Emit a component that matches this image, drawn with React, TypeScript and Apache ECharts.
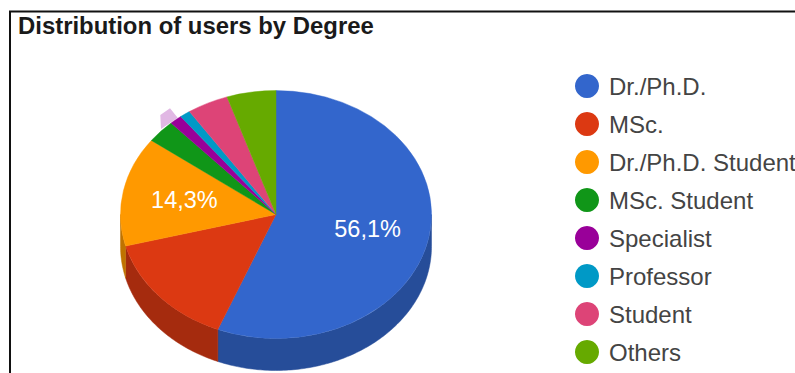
import React, { useEffect, useRef } from "react";
import * as echarts from "echarts";

const titleText = "Distribution of users by Degree";
const categories = ["Dr./Ph.D.", "MSc.", "Dr./Ph.D. Student", "MSc. Student", "Specialist", "Professor", "Student", "Others"];
const shares = [56.1, 14.8, 14.3, 3.0, 1.3, 1.1, 4.3, 5.1];
const shownLabels = [true, false, true, false, false, false, false, false];
const topColors = ["#3366cc", "#dc3912", "#ff9900", "#109618", "#990099", "#0099c6", "#dd4477", "#66aa00"];
const wallColors = ["#264d99", "#a52b0e", "#bf7300", "#0c710f", "#730073", "#007395", "#a63359", "#4d8000"];

// Geometry of the tilted pie.
const CX = 276;
const CY = 214.5;
const RX = 155.5;
const RY = 124;
const DEPTH = 32;
const LABEL_RADIUS = 0.6;

const total = shares.reduce((a, b) => a + b, 0);
const sliceBounds = (index: number) => {
  const before = shares.slice(0, index).reduce((a, b) => a + b, 0);
  // Angles run clockwise from twelve o'clock.
  return [(before / total) * Math.PI * 2, ((before + shares[index]) / total) * Math.PI * 2];
};
const rimPoint = (angle: number, drop = 0) => [CX + RX * Math.sin(angle), CY - RY * Math.cos(angle) + drop];

const formatShare = (v: number) => v.toFixed(1).replace(".", ",") + "%";

const renderSlice = (index: number) => (_params: unknown, api: any) => {
  const [start, end] = sliceBounds(index);
  const color = topColors[index];
  const children: any[] = [];

  // Side wall: only the part of the rim that faces the viewer (lower half).
  const wallStart = Math.max(start, Math.PI / 2);
  const wallEnd = Math.min(end, (Math.PI * 3) / 2);
  if (wallEnd > wallStart) {
    const upper: number[][] = [];
    const lower: number[][] = [];
    const steps = Math.max(2, Math.ceil((wallEnd - wallStart) * 60));
    for (let i = 0; i <= steps; i++) {
      const a = wallStart + ((wallEnd - wallStart) * i) / steps;
      upper.push(rimPoint(a));
      lower.unshift(rimPoint(a, DEPTH));
    }
    children.push({
      type: "polygon",
      shape: { points: upper.concat(lower) },
      style: { fill: wallColors[index], stroke: wallColors[index], lineWidth: 0.5 },
    });
  }

  // Top face: a sector squashed vertically into the ellipse.
  children.push({
    type: "sector",
    x: CX,
    y: CY,
    scaleY: RY / RX,
    shape: {
      cx: 0,
      cy: 0,
      r0: 0,
      r: RX,
      startAngle: start - Math.PI / 2,
      endAngle: end - Math.PI / 2,
      clockwise: true,
    },
    style: { fill: color, stroke: color, lineWidth: 0.5 },
  });

  if (shownLabels[index]) {
    const mid = (start + end) / 2;
    children.push({
      type: "text",
      x: CX + RX * LABEL_RADIUS * Math.sin(mid),
      y: CY - RY * LABEL_RADIUS * Math.cos(mid),
      z2: 10,
      style: {
        text: formatShare(api.value(0)),
        fill: "#ffffff",
        font: '23.5px "Liberation Sans", Arial, sans-serif',
        align: "center",
        verticalAlign: "middle",
      },
    });
  }
  return { type: "group", children };
};

export default function App() {
  const ref = useRef<HTMLDivElement>(null);

  useEffect(() => {
    document.body.style.margin = "0";
    const chart = echarts.init(ref.current!, undefined, { renderer: "svg" });
    chart.setOption({
      animation: false,
      backgroundColor: "#ffffff",
      title: {
        text: titleText,
        left: 18,
        top: 13,
        padding: 0,
        textStyle: { fontFamily: '"Liberation Sans", Arial, sans-serif', fontSize: 23.9, fontWeight: "bold", color: "#1a1a1a" },
      },
      legend: {
        orient: "vertical",
        left: 575,
        top: 74,
        icon: "circle",
        itemWidth: 24,
        itemHeight: 24,
        itemGap: 14,
        padding: 0,
        selectedMode: false,
        data: categories,
        textStyle: {
          fontFamily: '"Liberation Sans", Arial, sans-serif',
          fontSize: 24,
          color: "#444444",
          padding: [0, 0, 0, 5],
        },
      },
      graphic: [
        // Frame around the panel (open at the right and bottom, where the panel is cut off).
        { type: "line", shape: { x1: 9, y1: 11.5, x2: 795, y2: 11.5 }, style: { stroke: "#111111", lineWidth: 2 } },
        { type: "line", shape: { x1: 10, y1: 11, x2: 10, y2: 373 }, style: { stroke: "#111111", lineWidth: 2 } },
        // Pale highlight sitting just outside the Specialist slice.
        {
          type: "polygon",
          shape: { points: [[160.3, 115], [170, 108.3], [177.7, 117.7], [171.7, 121.7], [161, 129]] },
          style: { fill: "#e1b8e4" },
        },
      ],
      series: categories.map((name, i) => ({
        type: "custom",
        name,
        coordinateSystem: "none",
        silent: true,
        itemStyle: { color: topColors[i] },
        renderItem: renderSlice(i),
        data: [[shares[i]]],
      })),
    });
    return () => chart.dispose();
  }, []);

  return <div ref={ref} style={{ width: 795, height: 373 }} />;
}
